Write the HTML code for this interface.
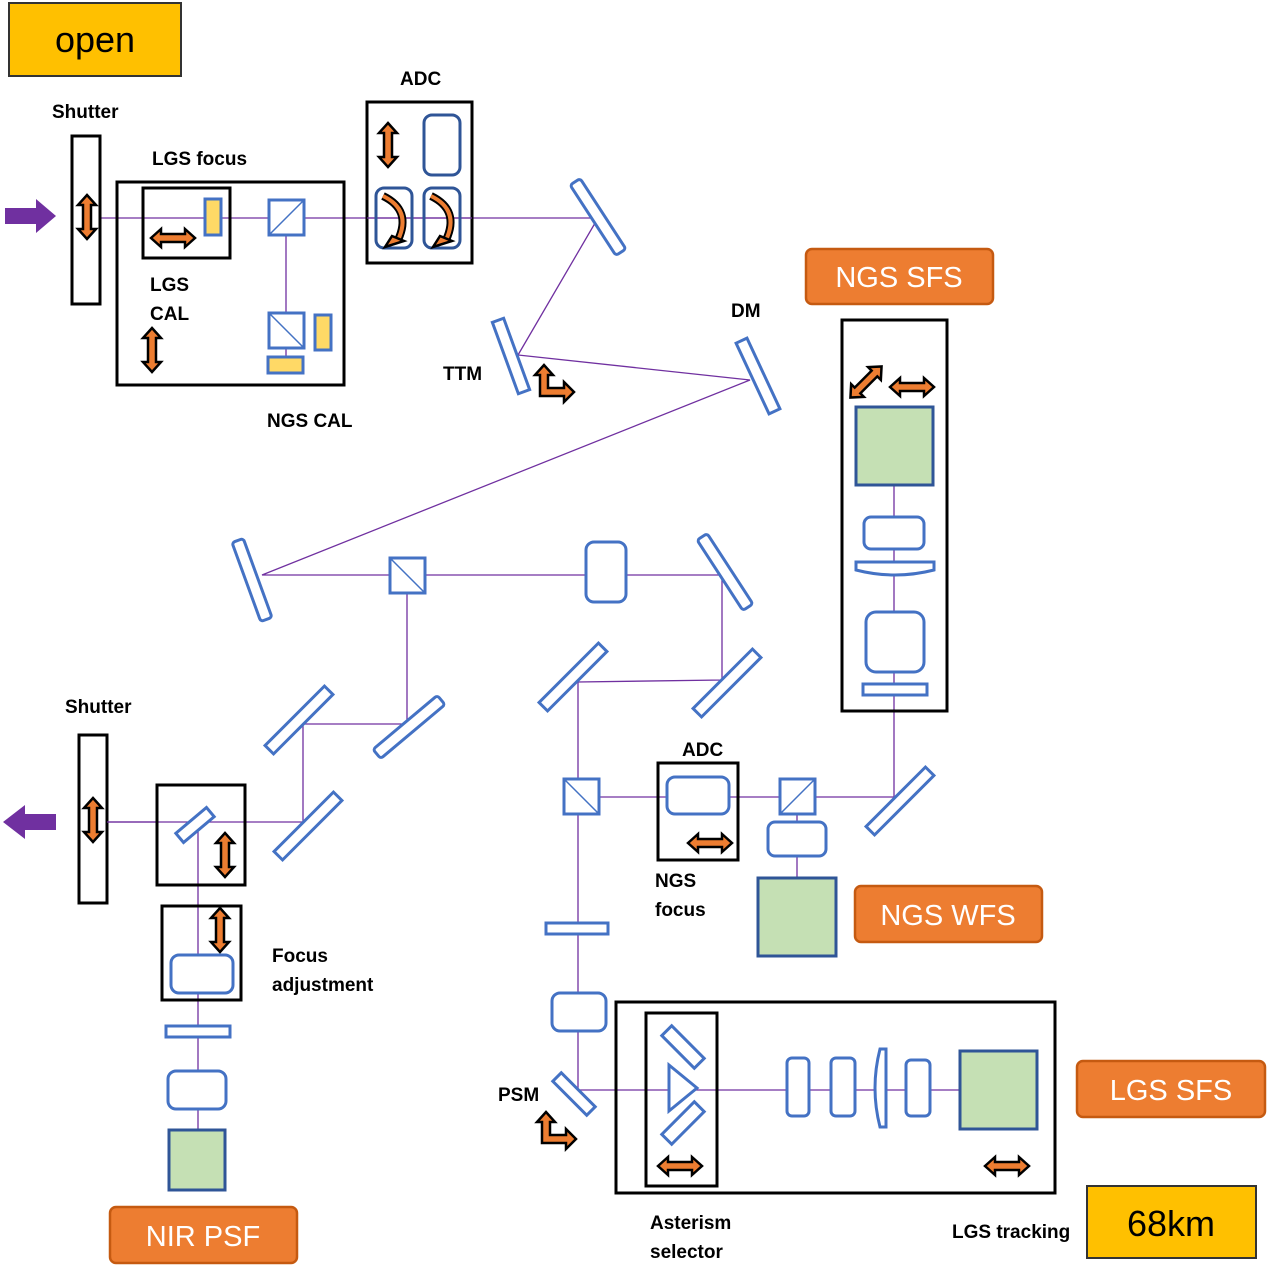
<!DOCTYPE html>
<html><head><meta charset="utf-8"><style>
html,body{margin:0;padding:0;background:#fff;}
svg{display:block;}
.t{font-family:"Liberation Sans",sans-serif;font-weight:bold;font-size:19px;fill:#000;}
.b{fill:#fff;stroke:#4472C4;stroke-width:3;}
.k{fill:none;stroke:#000;stroke-width:3;}
.p{stroke:#7030A0;stroke-width:1.3;fill:none;}
.y{fill:#FFD966;stroke:#4472C4;stroke-width:3;}
.g{fill:#C5E0B4;stroke:#2F5597;stroke-width:3;}
.lab{fill:#ED7D31;stroke:#C55A11;stroke-width:2.5;}
.lt{font-family:"Liberation Sans",sans-serif;font-size:29px;fill:#fff;}
.ar{fill:#ED7D31;stroke:#000;stroke-width:2.5;stroke-linejoin:miter;}
</style></head><body>
<svg width="1268" height="1280" viewBox="0 0 1268 1280" xmlns="http://www.w3.org/2000/svg">
<defs>
<polygon id="da" class="ar" points="-22,0 -12,-9 -12,-4 12,-4 12,-9 22,0 12,9 12,4 -12,4 -12,9"/>
</defs>
<!-- beams -->
<g class="p">
<polyline points="100,218 598,218 518,355 750,380 262,575 722,575 722,680 578,682 578,1090 960,1090"/>
<line x1="286" y1="234" x2="286" y2="313"/>
<line x1="286" y1="348" x2="286" y2="357"/>
<polyline points="407,592 407,724 303,724 303,822 107,822"/>
<line x1="198" y1="822" x2="198" y2="1130"/>
<line x1="578" y1="797" x2="898" y2="797"/>
<line x1="894" y1="485" x2="894" y2="797"/>
<line x1="797" y1="814" x2="797" y2="878"/>
</g>
<!-- open -->
<rect x="9" y="3" width="172" height="73" fill="#FFC000" stroke="#333" stroke-width="2"/>
<text x="95" y="52" text-anchor="middle" font-family="Liberation Sans,sans-serif" font-size="36" fill="#000">open</text>
<!-- purple arrows -->
<polygon points="5,208 36,208 36,199 56,216 36,233 36,224 5,224" fill="#7030A0"/>
<polygon points="56,814 25,814 25,805 3,822 25,839 25,830 56,830" fill="#7030A0"/>
<!-- shutter 1 -->
<rect x="72" y="136" width="28" height="168" fill="#fff" class="k"/>
<use href="#da" transform="translate(87,217) rotate(90)"/>
<!-- LGS CAL -->
<rect x="117" y="182" width="227" height="203" class="k"/>
<rect x="143" y="188" width="87" height="70" class="k"/>
<rect x="205" y="199" width="16" height="36" class="y"/>
<use href="#da" transform="translate(173,238)"/>
<rect x="269" y="200" width="35" height="35" class="b"/><line x1="269" y1="235" x2="304" y2="200" stroke="#4472C4" stroke-width="1.5"/>
<rect x="269" y="313" width="35" height="35" class="b"/><line x1="269" y1="313" x2="304" y2="348" stroke="#4472C4" stroke-width="1.5"/>
<rect x="315" y="315" width="16" height="35" class="y"/>
<rect x="268" y="357" width="35" height="16" class="y"/>
<use href="#da" transform="translate(152,350) rotate(90)"/>
<!-- ADC -->
<rect x="367" y="102" width="105" height="161" fill="#fff" class="k"/>
<line x1="367" y1="218" x2="472" y2="218" class="p"/>
<rect x="424" y="115" width="36" height="60" rx="8" fill="none" stroke="#2F5597" stroke-width="3"/>
<rect x="376" y="188" width="36" height="60" rx="8" fill="none" stroke="#2F5597" stroke-width="3"/>
<rect x="424" y="188" width="36" height="60" rx="8" fill="none" stroke="#2F5597" stroke-width="3"/>
<use href="#da" transform="translate(388,145) rotate(90)"/>
<g>
<path d="M383,196 Q412,210 398,240" fill="none" stroke="#000" stroke-width="8"/>
<path d="M383,196 Q412,210 398,240" fill="none" stroke="#ED7D31" stroke-width="4"/>
<polygon class="ar" points="392,236 404,241 385,247" />
<path d="M431,196 Q460,210 446,240" fill="none" stroke="#000" stroke-width="8"/>
<path d="M431,196 Q460,210 446,240" fill="none" stroke="#ED7D31" stroke-width="4"/>
<polygon class="ar" points="440,236 452,241 433,247" />
</g>
<!-- mirrors -->
<rect x="-6" y="-42" width="12" height="84" rx="3" class="b" transform="translate(598,217) rotate(-33)"/>
<rect x="-6" y="-38" width="12" height="76" class="b" transform="translate(511,356) rotate(-20)"/>
<rect x="-6" y="-39" width="12" height="78" class="b" transform="translate(758,376) rotate(-25)"/>
<rect x="-6" y="-42" width="12" height="84" rx="3" class="b" transform="translate(252,580) rotate(-20)"/>
<rect x="-6" y="-42" width="12" height="84" rx="3" class="b" transform="translate(725,572) rotate(-33)"/>
<rect x="-6" y="-42" width="12" height="84" class="b" transform="translate(727,683) rotate(45)"/>
<rect x="-6" y="-42" width="12" height="84" class="b" transform="translate(573,677) rotate(45)"/>
<rect x="-6" y="-42" width="12" height="84" class="b" transform="translate(900,801) rotate(45)"/>
<rect x="-6" y="-42" width="12" height="84" rx="3" class="b" transform="translate(409,727) rotate(50)"/>
<rect x="-6" y="-42" width="12" height="84" class="b" transform="translate(299,720) rotate(45)"/>
<rect x="-6" y="-42" width="12" height="84" class="b" transform="translate(308,826) rotate(45)"/>
<rect x="-6" y="-24" width="12" height="48" class="b" transform="translate(574,1094) rotate(-45)"/>
<!-- L arrows -->
<polygon class="ar" points="540,396 540,375 535,375 544,365 553,375 548,375 548,388 564,388 564,382 574,392 564,402 564,396"/>
<polygon class="ar" points="542,1143 542,1122 537,1122 546,1112 555,1122 550,1122 550,1135 566,1135 566,1129 576,1139 566,1149 566,1143"/>
<!-- NGS SFS -->
<rect x="806" y="249" width="187" height="55" rx="6" class="lab"/>
<text x="899" y="287" text-anchor="middle" class="lt">NGS SFS</text>
<rect x="842" y="320" width="105" height="391" class="k"/>
<rect x="856" y="407" width="77" height="78" class="g"/>
<use href="#da" transform="translate(866,382) rotate(-45)"/>
<use href="#da" transform="translate(912,387)"/>
<rect x="864" y="517" width="60" height="32" rx="7" class="b"/>
<path d="M856,562 L934,562 L934,570 Q895,580 856,570 Z" class="b"/>
<rect x="866" y="612" width="58" height="60" rx="10" class="b"/>
<rect x="863" y="684" width="64" height="11" class="b"/>
<!-- main row -->
<rect x="390" y="558" width="35" height="35" class="b"/><line x1="390" y1="558" x2="425" y2="593" stroke="#4472C4" stroke-width="1.5"/>
<rect x="586" y="542" width="40" height="60" rx="8" class="b"/>
<!-- ADC lower -->
<rect x="564" y="779" width="35" height="35" class="b"/><line x1="564" y1="779" x2="599" y2="814" stroke="#4472C4" stroke-width="1.5"/>
<rect x="658" y="763" width="80" height="97" class="k"/>
<rect x="667" y="777" width="62" height="37" rx="8" class="b"/>
<use href="#da" transform="translate(710,843)"/>
<rect x="780" y="779" width="35" height="35" class="b"/><line x1="780" y1="814" x2="815" y2="779" stroke="#4472C4" stroke-width="1.5"/>
<rect x="768" y="822" width="58" height="34" rx="7" class="b"/>
<rect x="758" y="878" width="78" height="78" class="g"/>
<rect x="855" y="886" width="187" height="56" rx="6" class="lab"/>
<text x="948" y="925" text-anchor="middle" class="lt">NGS WFS</text>
<rect x="546" y="923" width="62" height="11" class="b"/>
<rect x="552" y="993" width="54" height="38" rx="8" class="b"/>
<!-- shutter 2 / NIR -->
<rect x="79" y="735" width="28" height="168" fill="#fff" class="k"/>
<line x1="107" y1="822" x2="157" y2="822" class="p"/>
<use href="#da" transform="translate(93,820) rotate(90)"/>
<rect x="157" y="785" width="88" height="100" class="k"/>
<rect x="-20" y="-6" width="40" height="12" class="b" transform="translate(195,825) rotate(-40)"/>
<use href="#da" transform="translate(225,855) rotate(90)"/>
<rect x="162" y="906" width="79" height="94" class="k"/>
<use href="#da" transform="translate(220,930) rotate(90)"/>
<rect x="171" y="955" width="62" height="38" rx="8" class="b"/>
<rect x="166" y="1026" width="64" height="11" class="b"/>
<rect x="168" y="1071" width="58" height="38" rx="8" class="b"/>
<rect x="169" y="1130" width="56" height="60" class="g"/>
<rect x="110" y="1207" width="187" height="56" rx="6" class="lab"/>
<text x="203" y="1246" text-anchor="middle" class="lt">NIR PSF</text>
<!-- LGS SFS -->
<rect x="616" y="1002" width="439" height="191" class="k"/>
<rect x="646" y="1013" width="71" height="173" class="k"/>
<polygon points="669,1065 669,1111 697,1088" class="b"/>
<rect x="-23" y="-7" width="46" height="14" class="b" transform="translate(683,1047) rotate(45)"/>
<rect x="-23" y="-7" width="46" height="14" class="b" transform="translate(683,1123) rotate(-45)"/>
<use href="#da" transform="translate(680,1166)"/>
<rect x="787" y="1058" width="22" height="58" rx="5" class="b"/>
<rect x="831" y="1058" width="24" height="58" rx="5" class="b"/>
<path d="M880,1049 L886,1049 L886,1127 L880,1127 Q870,1088 880,1049 Z" class="b"/>
<rect x="906" y="1060" width="24" height="56" rx="5" class="b"/>
<rect x="960" y="1051" width="77" height="78" class="g"/>
<use href="#da" transform="translate(1007,1166)"/>
<rect x="1077" y="1061" width="188" height="56" rx="6" class="lab"/>
<text x="1171" y="1100" text-anchor="middle" class="lt">LGS SFS</text>
<rect x="1087" y="1186" width="169" height="72" fill="#FFC000" stroke="#333" stroke-width="2"/>
<text x="1171" y="1236" text-anchor="middle" font-family="Liberation Sans,sans-serif" font-size="36" fill="#000">68km</text>
<!-- texts -->
<text class="t" x="52" y="118">Shutter</text>
<text class="t" x="152" y="165">LGS focus</text>
<text class="t" x="150" y="291">LGS</text>
<text class="t" x="150" y="320">CAL</text>
<text class="t" x="267" y="427">NGS CAL</text>
<text class="t" x="400" y="85">ADC</text>
<text class="t" x="443" y="380">TTM</text>
<text class="t" x="731" y="317">DM</text>
<text class="t" x="65" y="713">Shutter</text>
<text class="t" x="682" y="756">ADC</text>
<text class="t" x="655" y="887">NGS</text>
<text class="t" x="655" y="916">focus</text>
<text class="t" x="272" y="962">Focus</text>
<text class="t" x="272" y="991">adjustment</text>
<text class="t" x="498" y="1101">PSM</text>
<text class="t" x="650" y="1229">Asterism</text>
<text class="t" x="650" y="1258">selector</text>
<text class="t" x="952" y="1238">LGS tracking</text>
</svg>
</body></html>
